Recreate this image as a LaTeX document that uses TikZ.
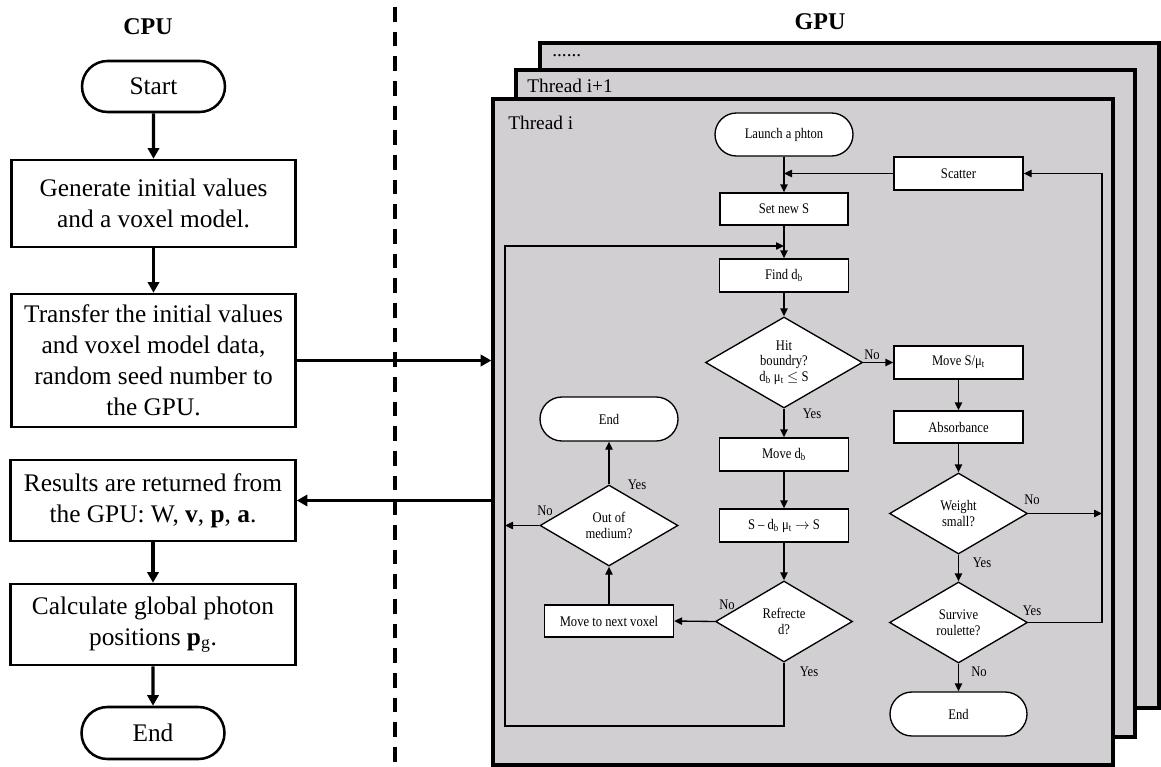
\documentclass[tikz,border=0pt]{standalone}
\usepackage{fontspec}
\setmainfont{Liberation Serif}
\newfontfamily\condfont[FakeStretch=0.86,Ligatures=TeX]{Liberation Serif}
\usetikzlibrary{arrows.meta,shapes.geometric,shapes.misc}
\definecolor{gpugray}{RGB}{209,207,210}
\begin{document}
\begin{tikzpicture}[x=0.75pt,y=-0.75pt,
  sz/.style 2 args={minimum width=#1*0.75pt,minimum height=#2*0.75pt},
  cpubox/.style={draw,line width=1.9pt,fill=white,inner sep=0pt,align=center,
    font=\fontsize{19}{23.3}\selectfont},
  cputerm/.style={cpubox,rounded rectangle},
  cpuarrow/.style={line width=2.6pt,-{Triangle[length=8pt,width=8.5pt]}},
  title/.style={inner sep=0pt,font=\fontsize{18}{20}\selectfont\bfseries},
  gpubox/.style={draw,line width=2.5pt,fill=gpugray,inner sep=0pt},
  thr/.style={inner sep=0pt,anchor=west,font=\fontsize{14.5}{16}\selectfont},
  box/.style={draw,line width=1pt,fill=white,inner sep=0pt,align=center,
    font=\condfont\fontsize{11}{11.8}\selectfont},
  term/.style={box,rounded rectangle},
  dec/.style={box,diamond,aspect=1.7},
  arr/.style={line width=1pt,-{Triangle[length=6pt,width=5.5pt]}},
  lab/.style={inner sep=0pt,font=\condfont\fontsize{11}{12}\selectfont}]
\useasboundingbox (0,0) rectangle (1161,767);

% ---------------- CPU side ----------------
\node[title] (cpuT) at (148,27) {CPU};
\node[cputerm,sz={143}{51}] (start) at (153.5,86.5) {Start};
\node[cpubox,sz={284}{87}] (gen) at (153.5,203.5) {Generate initial values\\and a voxel model.};
\node[cpubox,sz={284}{133}] (trans) at (153.5,360.5) {Transfer the initial values\\and voxel model data,\\random seed number to\\the GPU.};
\node[cpubox,sz={285}{81}] (res) at (153,500.5) {Results are returned from\\the GPU: W, \textbf{v}, \textbf{p}, \textbf{a}.};
\node[cpubox,sz={285}{81}] (calc) at (153,624.5) {Calculate global photon\\positions \textbf{p}\textsubscript{g}.};
\node[cputerm,sz={143}{52}] (endc) at (153,733) {End};

\draw[cpuarrow] (start) -- (gen);
\draw[cpuarrow] (gen) -- (trans);
\draw[cpuarrow] (res) -- (calc);
\draw[cpuarrow] (calc) -- (endc);

% dashed separator
\coordinate (sepTop) at (395,7);
\coordinate (sepBot) at (395,767);
\draw[line width=3pt,dash pattern=on 11pt off 7.5pt] (sepTop) -- (sepBot);

% ---------------- GPU side ----------------
\node[title] (gpuT) at (820,22) {GPU};
\node[gpubox,sz={619}{665}] (back) at (849.5,375.5) {};
\node[gpubox,sz={619}{667}] (middle) at (825.5,403.5) {};
\node[gpubox,sz={620}{666}] (front) at (803,432) {};
\node[thr] (dots) at (552,56) {......};
\node[thr] (thr1) at (527,86) {Thread i+1};
\node[thr] (thr0) at (508,123) {Thread i};

\draw[cpuarrow] (trans.east) -- (trans.east -| front.west);
\draw[cpuarrow] (front.west |- res.east) -- (res.east);

% inner flowchart
\node[term,sz={138}{43}] (launch) at (784,134.5) {Launch a phton};
\node[box,sz={129}{33}] (scatter) at (958.5,173.5) {Scatter};
\node[box,sz={128}{32}] (setS) at (784,209) {Set new S};
\node[box,sz={129}{33}] (findd) at (784,275.5) {Find d\textsubscript{b}};
\node[dec,sz={157}{91}] (hit) at (784,362.5) {Hit\\boundry?\\d\textsubscript{b} μ\textsubscript{t} $\leq$ S};
\node[box,sz={129}{33}] (moveS) at (958.5,362.5) {Move S/μ\textsubscript{t}};
\node[box,sz={129}{32}] (absorb) at (958.5,427) {Absorbance};
\node[box,sz={129}{33}] (moved) at (784,454.5) {Move d\textsubscript{b}};
\node[term,sz={138}{44}] (endl) at (609,419) {End};
\node[dec,sz={138}{81}] (outm) at (609,525.5) {Out of\\medium?};
\node[box,sz={129}{33}] (sdb) at (784,525.5) {S – d\textsubscript{b} μ\textsubscript{t} $\rightarrow$ S};
\node[dec,sz={137}{81}] (refr) at (784,621.5) {Refrecte\\d?};
\node[box,sz={129}{32}] (nextv) at (609,621) {Move to next voxel};
\node[dec,sz={138}{81}] (weight) at (958.5,513.5) {Weight\\small?};
\node[dec,sz={138}{81}] (surv) at (958.5,622.5) {Survive\\roulette?};
\node[term,sz={137}{44}] (endr) at (958.5,714) {End};

\coordinate (loopBL) at (505,726);
\coordinate (loopTL) at (505,246);
\coordinate (rTR) at (1102,173.5);

\draw[arr] (launch.south) -- (setS.north);
\draw[arr] (scatter.west) -- (scatter.west -| launch.south);
\draw[arr] (setS.south) -- (findd.north);
\draw[arr] (findd.south) -- (hit.north);
\draw[arr] (hit.east) -- (moveS.west);
\draw[arr] (hit.south) -- (moved.north);
\draw[arr] (moveS.south) -- (absorb.north);
\draw[arr] (absorb.south) -- (weight.north);
\draw[arr] (moved.south) -- (sdb.north);
\draw[arr] (sdb.south) -- (refr.north);
\draw[arr] (refr.west) -- (nextv.east);
\draw[arr] (nextv.north) -- (outm.south);
\draw[arr] (outm.north) -- (endl.south);
\draw[arr] (outm.west) -- (outm.west -| loopBL);
\draw[arr] (refr.south) |- (loopBL) -- (loopTL) -- (loopTL -| findd.north);
\draw[arr] (weight.east) -- (weight.east -| rTR);
\draw[arr] (weight.south) -- (surv.north);
\draw[arr] (surv.south) -- (endr.north);
\draw[arr] (surv.east) -| (rTR) -- (scatter.east);

% labels
\node[lab] (l1) at (872,355) {No};
\node[lab] (l2) at (812,414) {Yes};
\node[lab] (l3) at (637,485) {Yes};
\node[lab] (l4) at (545,511) {No};
\node[lab] (l5) at (727,605) {No};
\node[lab] (l6) at (809,672) {Yes};
\node[lab] (l7) at (1032,500) {No};
\node[lab] (l8) at (982,563) {Yes};
\node[lab] (l9) at (1032,611) {Yes};
\node[lab] (l10) at (979,672) {No};
\end{tikzpicture}
\end{document}
